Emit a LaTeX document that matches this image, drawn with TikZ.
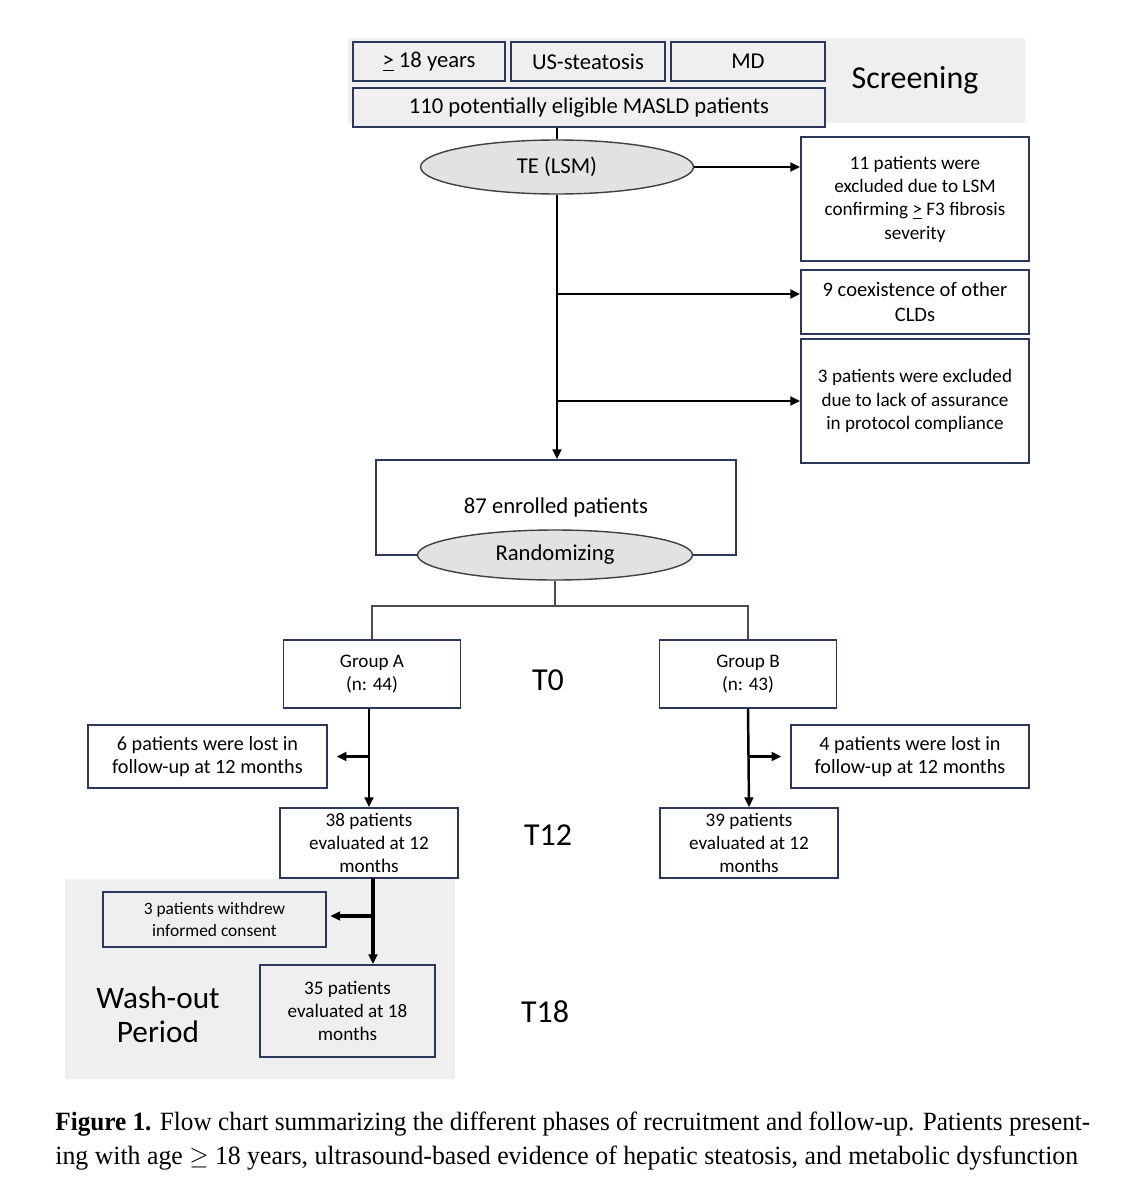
\documentclass[tikz,border=0pt]{standalone}
\usepackage{fontspec}
\setmainfont{Carlito}
\newfontfamily\capfont{Liberation Serif}
\usepackage{xcolor}
\usepackage{graphicx}
\usetikzlibrary{shapes.geometric,arrows.meta,positioning,calc}
\definecolor{boxline}{RGB}{44,55,92}
\definecolor{phasegray}{RGB}{239,239,239}
\definecolor{ovalgray}{RGB}{226,226,226}

\begin{document}
\begin{tikzpicture}[x=0.02cm, y=-0.02cm,
  box/.style={draw=boxline, line width=1.1pt, fill=white, align=center, inner sep=2pt, font=\fontsize{12.9}{14}\selectfont},
  sbox/.style={box, font=\fontsize{10.9}{13.3}\selectfont},
  oval/.style={draw=black!75, line width=0.8pt, fill=ovalgray, ellipse, font=\fontsize{12.9}{14}\selectfont},
  big/.style={font=\fontsize{18.2}{20}\selectfont, align=center},
  arr/.style={-{Triangle[length=5.5pt,width=5pt]}, line width=1.4pt},
  split/.style={draw=black!70, line width=0.8pt}]
\useasboundingbox (0,0) rectangle (1141,1200);

% phase backgrounds
\fill[phasegray] (348,38) rectangle (1025,123);
\fill[phasegray] (65,879) rectangle (455,1079);

% screening
\node[box, fill=phasegray, minimum width=3.04cm, minimum height=0.78cm] (age) at (429,61.5) {\underline{>} 18 years};
\node[box, fill=phasegray, minimum width=3.08cm, minimum height=0.78cm] (us) at (588,61.5) {US-steatosis};
\node[box, fill=phasegray, minimum width=3.08cm, minimum height=0.78cm] (md) at (748,61.5) {MD};
\node[box, fill=phasegray, minimum width=9.44cm, minimum height=0.78cm] (elig) at (589,107.5) {110 potentially eligible MASLD patients};
\node[big] (scr) at (915,80) {Screening};

% exclusions
\node[oval, minimum width=5.46cm, minimum height=1.08cm] (te) at (557,167) {TE (LSM)};
\node[sbox, minimum width=4.56cm, minimum height=2.48cm] (exA) at (915,199) {11 patients were\\excluded due to LSM\\confirming \underline{>} F3 fibrosis\\severity};
\node[sbox, minimum width=4.56cm, minimum height=1.28cm, font=\fontsize{11.7}{14.2}\selectfont] (exB) at (915,302) {9 coexistence of other\\CLDs};
\node[sbox, minimum width=4.56cm, minimum height=2.48cm] (exC) at (915,401) {3 patients were excluded\\due to lack of assurance\\in protocol compliance};

% enrolment
\node[box, minimum width=7.2cm, minimum height=1.9cm] (enr) at (556,507.5) {87 enrolled patients};
\node[oval, minimum width=5.5cm, minimum height=1.0cm] (rand) at (555,555) {Randomizing};

% groups
\node[sbox, minimum width=3.54cm, minimum height=1.36cm] (grpA) at (372,674) {Group A\\(n: 44)};
\node[sbox, minimum width=3.54cm, minimum height=1.36cm] (grpB) at (748,674) {Group B\\(n: 43)};
\node[sbox, minimum width=4.78cm, minimum height=1.26cm, font=\fontsize{11.5}{13.3}\selectfont] (lostA) at (207.5,756.5) {6 patients were lost in\\follow-up at 12 months};
\node[sbox, minimum width=4.76cm, minimum height=1.26cm, font=\fontsize{11.5}{13.3}\selectfont] (lostB) at (910,756.5) {4 patients were lost in\\follow-up at 12 months};
\node[sbox, minimum width=3.56cm, minimum height=1.4cm] (evA) at (369,843) {38 patients\\evaluated at 12\\months};
\node[sbox, minimum width=3.56cm, minimum height=1.4cm] (evB) at (749,843) {39 patients\\evaluated at 12\\months};

% wash-out
\node[sbox, fill=phasegray, minimum width=4.46cm, minimum height=1.1cm, font=\fontsize{9.9}{12}\selectfont] (wd) at (214.5,919.5) {3 patients withdrew\\informed consent};
\node[sbox, fill=phasegray, minimum width=3.5cm, minimum height=1.84cm] (ev18) at (347.5,1011) {35 patients\\evaluated at 18\\months};
\node[big, font=\fontsize{17.8}{19.5}\selectfont] (wash) at (158,1015) {Wash-out\\Period};

% time points
\node[big] (t0) at (548,680) {T0};
\node[big] (t12) at (548,835) {T12};
\node[big] (t18) at (545,1012) {T18};

% connectors
\draw[line width=0.9pt] (elig.south -| te) -- (te.north);
\draw[arr] (te.east) -- (exA.west |- te.east);
\draw[arr] (te.south) -- (enr.north -| te.south);
\draw[arr] (te.south |- 0,294) -- (exB.west |- 0,294);
\draw[arr] (te.south |- exC.west) -- (exC.west);
\coordinate (fork) at (555,606);
\draw[split] (rand.south |- fork) -- (rand.south);
\draw[split] (grpA.north) |- (fork) -| (grpB.north);
\draw[arr] (grpA.south -| evA) -- (evA.north);
\draw[arr, shorten >=5pt] (lostA.east -| evA) -- (lostA.east);
\draw[arr] (grpB.south) -- (evB.north);
\draw[arr, shorten >=5pt] (lostB.west -| evB) -- (lostB.west);
\draw[arr, line width=2pt] (373,878) coordinate (wtop) -- (wtop |- ev18.north);
\draw[arr, line width=2pt, shorten >=2pt] (wtop |- 0,916) -- (wd.east |- 0,916);

% caption
\node[anchor=base west, inner sep=0pt, font=\capfont\fontsize{15}{17}\selectfont] (cap1) at (55,1130)
  {\resizebox{20.7cm}{\height}{\textbf{Figure 1.} Flow chart summarizing the different phases of recruitment and follow-up. Patients present-}};
\node[anchor=base west, inner sep=0pt, font=\capfont\fontsize{15}{17}\selectfont] (cap2) at (55,1164)
  {\resizebox{20.46cm}{\height}{ing with age $\geq$ 18 years, ultrasound-based evidence of hepatic steatosis, and metabolic dysfunction}};
\end{tikzpicture}
\end{document}
